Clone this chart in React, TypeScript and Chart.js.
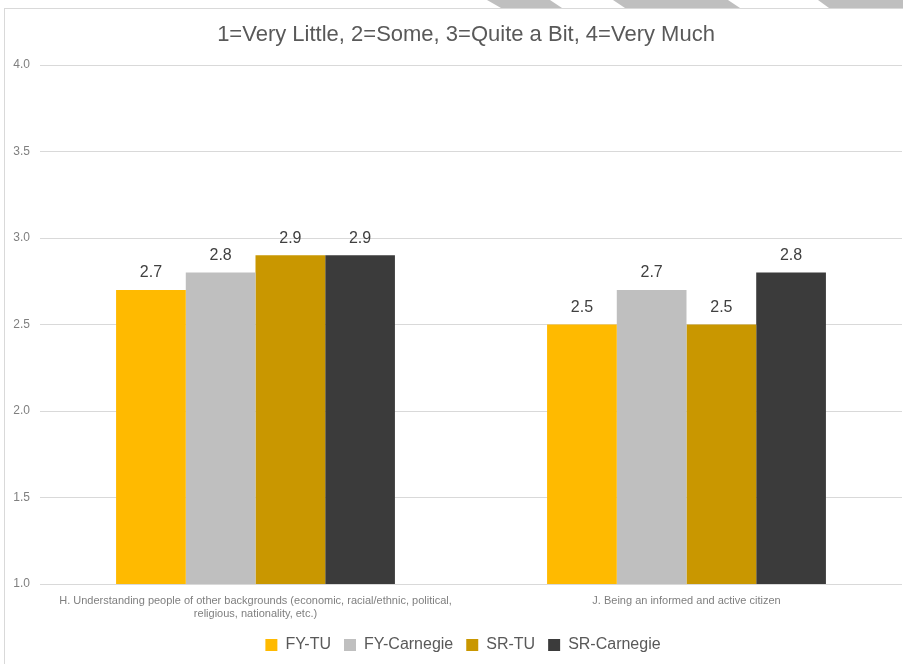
import React, { useEffect, useRef } from "react";
import { Chart, registerables } from "chart.js";

Chart.register(...registerables);

const TITLE = "1=Very Little, 2=Some, 3=Quite a Bit, 4=Very Much";
const categories: string[][] = [
  ["H. Understanding people of other backgrounds (economic, racial/ethnic, political,", "religious, nationality, etc.)"],
  ["J. Being an informed and active citizen"],
];
const seriesNames = ["FY-TU", "FY-Carnegie", "SR-TU", "SR-Carnegie"];
const fyTU = [2.7, 2.5];
const fyCarnegie = [2.8, 2.7];
const srTU = [2.9, 2.5];
const srCarnegie = [2.9, 2.8];
const seriesColors = ["#FFBA00", "#BFBFBF", "#C99700", "#3B3B3B"];
const yMin = 1;
const yMax = 4;
const yStep = 0.5;

const FONT = "'Liberation Sans', Arial, sans-serif";

const valueLabels = {
  id: "valueLabels",
  afterDatasetsDraw(chart: any) {
    const ctx = chart.ctx;
    ctx.save();
    ctx.font = `16px ${FONT}`;
    ctx.fillStyle = "#404040";
    ctx.textAlign = "center";
    ctx.textBaseline = "middle";
    chart.data.datasets.forEach((ds: any, i: number) => {
      const meta = chart.getDatasetMeta(i);
      meta.data.forEach((bar: any, j: number) => {
        ctx.fillText(Number(ds.data[j]).toFixed(1), bar.x, bar.y - 17);
      });
    });
    ctx.restore();
  },
};

const boxShift = {
  id: "boxShift",
  afterLayout(chart: any) {
    if (chart.legend) {
      chart.legend.left += 12;
      chart.legend.right += 12;
    }
    if (chart.titleBlock) {
      chart.titleBlock.left += 15;
      chart.titleBlock.right += 15;
    }
  },
};

export default function App() {
  const ref = useRef<HTMLCanvasElement>(null);
  useEffect(() => {
    document.body.style.margin = "0";
    const data = [fyTU, fyCarnegie, srTU, srCarnegie];
    const chart = new Chart(ref.current!, {
      type: "bar",
      data: {
        labels: categories as any,
        datasets: seriesNames.map((n, i) => ({
          label: n,
          data: data[i],
          backgroundColor: seriesColors[i],
          borderWidth: 0,
          barPercentage: 1,
          categoryPercentage: 0.647,
        })),
      },
      options: {
        animation: false,
        responsive: false,
        maintainAspectRatio: false,
        layout: { padding: { left: 0, right: 1, top: 0, bottom: 1 } },
        plugins: {
          title: {
            display: true,
            text: TITLE,
            color: "#595959",
            font: { family: FONT, size: 22, weight: "normal" },
            padding: { top: 22, bottom: 16.6 },
          },
          legend: {
            position: "bottom",
            labels: {
              color: "#595959",
              font: { family: FONT, size: 16 },
              boxWidth: 12,
              boxHeight: 12,
              padding: 13,
            },
          },
          tooltip: { enabled: false },
        },
        scales: {
          x: {
            grid: { display: false, drawTicks: false },
            border: { display: false },
            ticks: {
              color: "#7F7F7F",
              font: { family: FONT, size: 11 },
              padding: 10,
              maxRotation: 0,
              autoSkip: false,
            },
            afterFit(scale: any) {
              scale.height = 40;
            },
          },
          y: {
            min: yMin,
            max: yMax,
            grid: { color: "#D9D9D9", drawTicks: false },
            border: { display: false },
            ticks: {
              stepSize: yStep,
              color: "#7F7F7F",
              font: { family: FONT, size: 12 },
              padding: 10,
              callback: (v: any) => Number(v).toFixed(1),
            },
            afterFit(scale: any) {
              scale.width = 40;
            },
          },
        },
      } as any,
      plugins: [valueLabels, boxShift],
    });
    return () => chart.destroy();
  }, []);

  const shape = (pts: string) => (
    <div
      style={{
        position: "absolute",
        left: 0,
        top: 0,
        width: 903,
        height: 8,
        background: "#BFBFBF",
        clipPath: `polygon(${pts})`,
      }}
    />
  );

  return (
    <div style={{ position: "relative", width: 903, height: 664, background: "#fff", overflow: "hidden" }}>
      {shape("487px 0, 550px 0, 562px 8px, 501px 8px")}
      {shape("613px 0, 728px 0, 740px 8px, 625px 8px")}
      {shape("818px 0, 903px 0, 903px 8px, 829px 8px")}
      <div style={{ position: "absolute", left: 4, top: 8, width: 899, height: 1, background: "#D9D9D9" }} />
      <div style={{ position: "absolute", left: 4, top: 8, width: 1, height: 656, background: "#D9D9D9" }} />
      <canvas ref={ref} width={903} height={664} style={{ position: "absolute", left: 0, top: 0, display: "block" }} />
    </div>
  );
}
